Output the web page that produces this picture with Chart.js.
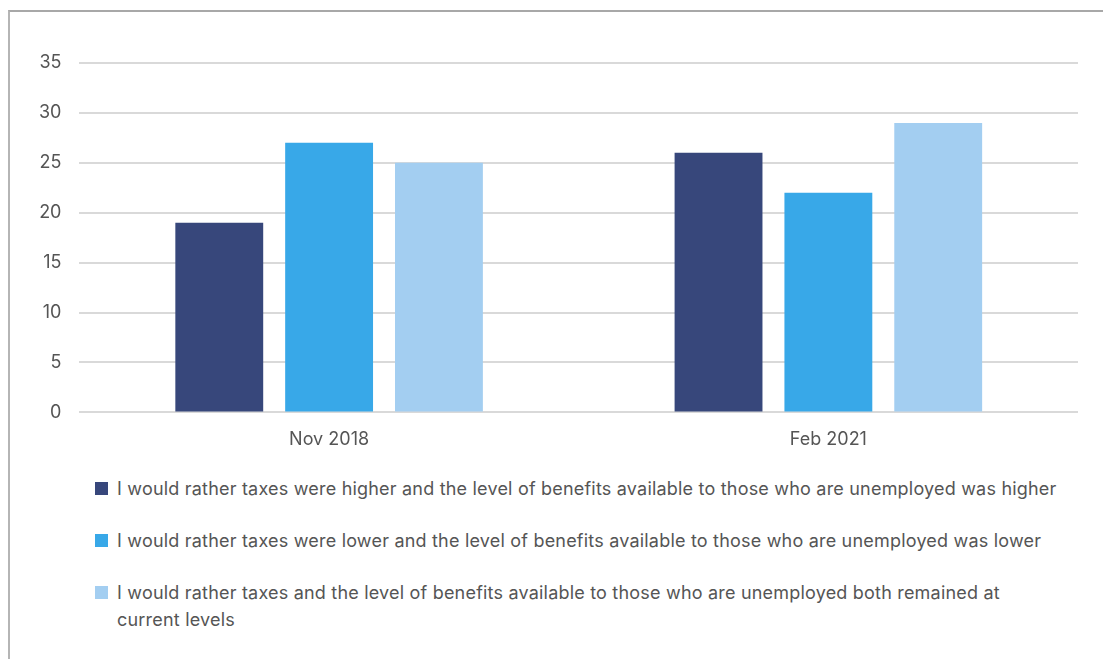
<!DOCTYPE html>
<html>
<head>
<meta charset="utf-8">
<script src="https://cdn.jsdelivr.net/npm/chart.js@4"></script>
<style>
  html, body { margin: 0; padding: 0; background: #fff; }
  body { width: 1103px; height: 659px; position: relative; overflow: hidden; font-family: Inter, "Open Sans", sans-serif; }
  .frame { position: absolute; left: 8px; top: 10px; width: 1200px; height: 700px; border-left: 2px solid #b5b5b5; border-top: 2px solid #a8a8a8; }
  .chart-box { position: absolute; left: 0; top: 0; width: 1103px; height: 463px; }
  #legend { position: absolute; left: 95px; top: 475px; width: 965px; margin: 0; padding: 0; list-style: none; }
  #legend li { position: relative; padding-left: 22px; font-size: 18px; letter-spacing: 0.2px; line-height: 27px; color: #555; margin-bottom: 25px; }
  #legend li span { position: absolute; left: 0; top: 7px; width: 13px; height: 13px; }
</style>
</head>
<body>
<div class="frame"></div>
<div class="chart-box"><canvas id="taxChart"></canvas></div>
<ul id="legend"></ul>
<script>
const periods = ['Nov 2018', 'Feb 2021'];
const seriesNames = [
  'I would rather taxes were higher and the level of benefits available to those who are unemployed was higher',
  'I would rather taxes were lower and the level of benefits available to those who are unemployed was lower',
  'I would rather taxes and the level of benefits available to those who are unemployed both remained at current levels'
];
const higherBoth = [19, 26];
const lowerBoth = [27, 22];
const remainSame = [25, 29];
const seriesColors = ['#37477b', '#38a8e8', '#a3cef1'];

document.addEventListener('DOMContentLoaded', function() {
  const ctx = document.getElementById('taxChart').getContext('2d');
  const values = [higherBoth, lowerBoth, remainSame];

  new Chart(ctx, {
    type: 'bar',
    data: {
      labels: periods,
      datasets: values.map((v, i) => ({
        label: seriesNames[i],
        data: v,
        backgroundColor: seriesColors[i],
        borderWidth: 0,
        categoryPercentage: 0.66,
        barPercentage: 0.8
      }))
    },
    options: {
      responsive: true,
      maintainAspectRatio: false,
      animation: false,
      layout: { padding: { top: 63, left: 21, right: 25, bottom: 5 } },
      plugins: {
        legend: { display: false },
        tooltip: { enabled: false }
      },
      scales: {
        x: {
          grid: { display: false },
          border: { display: false },
          ticks: { color: '#555', font: { family: 'Inter', size: 18 }, padding: 8 }
        },
        y: {
          min: 0,
          max: 35,
          ticks: { stepSize: 5, color: '#555', font: { family: 'Inter', size: 18 }, padding: 18 },
          grid: { color: '#d9d9d9', lineWidth: 2, drawTicks: false },
          border: { display: false }
        }
      }
    }
  });

  // legend below the plot, wraps long labels
  const legend = document.getElementById('legend');
  seriesNames.forEach((name, i) => {
    const li = document.createElement('li');
    const box = document.createElement('span');
    box.style.background = seriesColors[i];
    li.appendChild(box);
    li.appendChild(document.createTextNode(name));
    legend.appendChild(li);
  });
});
</script>
</body>
</html>
